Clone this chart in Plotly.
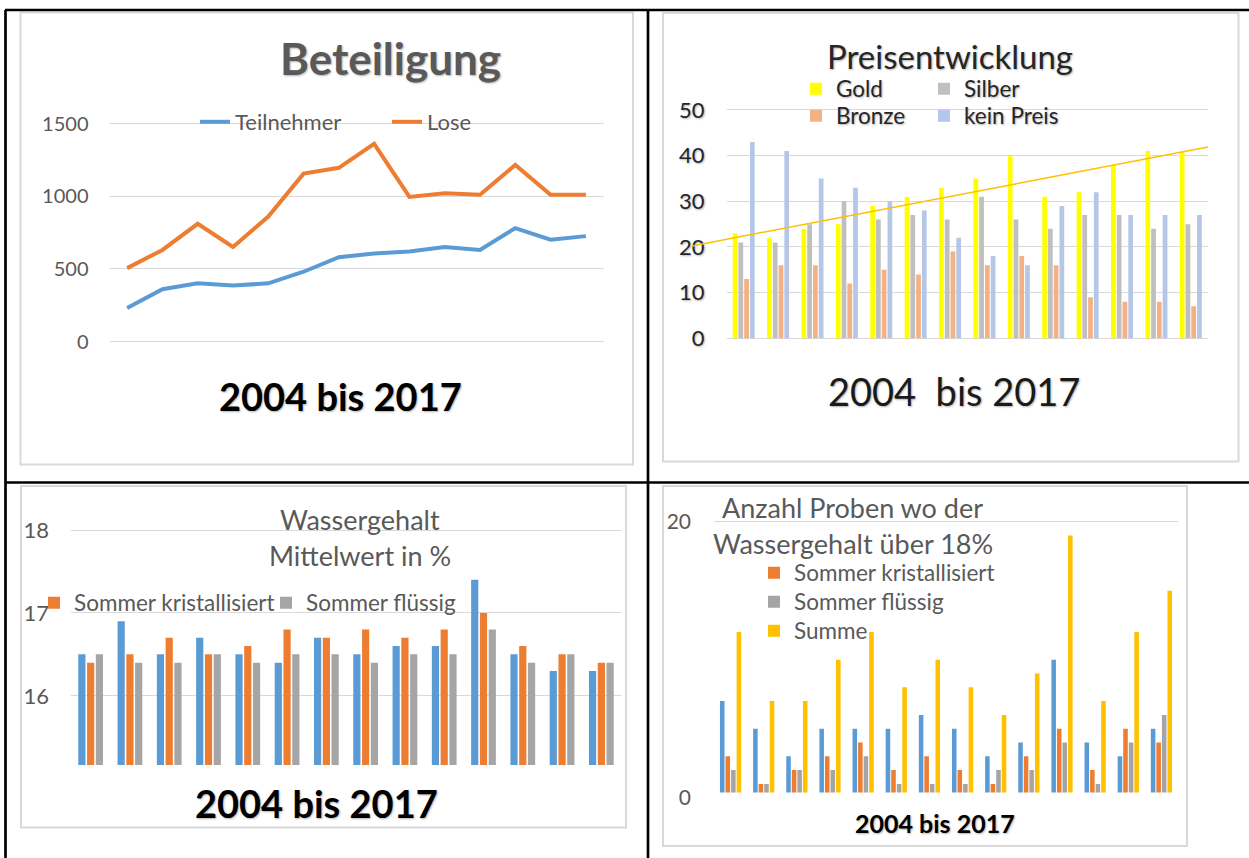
import numpy as np
import plotly.graph_objects as go

W, H = 1249, 858
FONT = "Lato"

# ---------------- data ----------------
years = [str(y) for y in range(2004, 2018)]

# Panel 1: Beteiligung
teilnehmer = [230, 360, 400, 385, 400, 480, 580, 605, 620, 650, 630, 780, 700, 725]
lose = [505, 630, 810, 650, 860, 1155, 1195, 1360, 995, 1020, 1010, 1215, 1010, 1010]

# Panel 2: Preisentwicklung
gold = [23, 22, 24, 25, 29, 31, 33, 35, 40, 31, 32, 38, 41, 41]
silber = [21, 21, 25, 30, 26, 27, 26, 31, 26, 24, 27, 27, 24, 25]
bronze = [13, 16, 16, 12, 15, 14, 19, 16, 18, 16, 9, 8, 8, 7]
kein_preis = [43, 41, 35, 33, 30, 28, 22, 18, 16, 29, 32, 27, 27, 27]

# Panel 3: Wassergehalt Mittelwert in %
wg_blau = [16.5, 16.9, 16.5, 16.7, 16.5, 16.4, 16.7, 16.5, 16.6, 16.6, 17.4, 16.5, 16.3, 16.3]
wg_kristall = [16.4, 16.5, 16.7, 16.5, 16.6, 16.8, 16.7, 16.8, 16.7, 16.8, 17.0, 16.6, 16.5, 16.4]
wg_fluessig = [16.5, 16.4, 16.4, 16.5, 16.4, 16.5, 16.5, 16.4, 16.5, 16.5, 16.8, 16.4, 16.5, 16.4]

# Panel 4: Anzahl Proben mit Wassergehalt ueber 18%
pr_blau = [7, 5, 3, 5, 5, 5, 6, 5, 3, 4, 10, 4, 3, 5]
pr_kristall = [3, 1, 2, 3, 4, 2, 3, 2, 1, 3, 5, 2, 5, 4]
pr_fluessig = [2, 1, 2, 2, 3, 1, 1, 1, 2, 2, 4, 1, 4, 6]
pr_summe = [12, 7, 7, 10, 12, 8, 10, 8, 6, 9, 19, 7, 12, 15]

# linear trend of Gold (backward forecast 1 period)
idx = np.arange(len(gold))
slope, icpt = np.polyfit(idx, gold, 1)
trend_x = np.array([idx[0] - 1.5, idx[-1] + 0.5])
trend_y = icpt + slope * trend_x

# ---------------- helpers ----------------
def xd(p0, p1):
    return [p0 / W, p1 / W]

def ydom(va, pa, vb, pb, r0, r1):
    f = lambda v: pa + (v - va) * (pb - pa) / (vb - va)
    top, bot = f(r1), f(r0)
    return [1 - bot / H, 1 - top / H]

def px(x):
    return x / W

def py(y):
    return 1 - y / H

BLUE, ORANGE, GRAY, YEL = "#5B9BD5", "#ED7D31", "#A5A5A5", "#FFC000"
GRID = "#D9D9D9"
TXT = "#595959"
DARK = "#262626"
SH = "1px 1px 2px rgba(0,0,0,0.30)"

fig = go.Figure()

# Panel 1
fig.add_trace(go.Scatter(x=years, y=teilnehmer, name="Teilnehmer", mode="lines",
                         line=dict(color=BLUE, width=4), xaxis="x", yaxis="y", legend="legend"))
fig.add_trace(go.Scatter(x=years, y=lose, name="Lose", mode="lines",
                         line=dict(color=ORANGE, width=4), xaxis="x", yaxis="y", legend="legend2"))

# Panel 2
fig.add_trace(go.Bar(x=years, y=gold, name="Gold", marker_color="#FFFF00", xaxis="x2", yaxis="y2", legend="legend3"))
fig.add_trace(go.Bar(x=years, y=silber, name="Silber", marker_color="#BFBFBF", xaxis="x2", yaxis="y2", legend="legend4"))
fig.add_trace(go.Bar(x=years, y=bronze, name="Bronze", marker_color="#F4B183", xaxis="x2", yaxis="y2", legend="legend5"))
fig.add_trace(go.Bar(x=years, y=kein_preis, name="kein Preis", marker_color="#B4C7E7", xaxis="x2", yaxis="y2", legend="legend6"))
fig.add_trace(go.Scatter(x=trend_x, y=trend_y, mode="lines", line=dict(color=YEL, width=1.5),
                         showlegend=False, xaxis="x5", yaxis="y5"))

# Panel 3
fig.add_trace(go.Bar(x=years, y=wg_blau, name="Frühjahr", marker_color=BLUE, showlegend=False, xaxis="x3", yaxis="y3"))
fig.add_trace(go.Bar(x=years, y=wg_kristall, name="Sommer kristallisiert", marker_color=ORANGE, xaxis="x3", yaxis="y3", legend="legend7"))
fig.add_trace(go.Bar(x=years, y=wg_fluessig, name="Sommer flüssig", marker_color=GRAY, xaxis="x3", yaxis="y3", legend="legend8"))

# Panel 4
fig.add_trace(go.Bar(x=years, y=pr_blau, name="Frühjahr", marker_color=BLUE, showlegend=False, xaxis="x4", yaxis="y4"))
fig.add_trace(go.Bar(x=years, y=pr_kristall, name="Sommer kristallisiert", marker_color=ORANGE, xaxis="x4", yaxis="y4", legend="legend9"))
fig.add_trace(go.Bar(x=years, y=pr_fluessig, name="Sommer flüssig", marker_color=GRAY, xaxis="x4", yaxis="y4", legend="legend10"))
fig.add_trace(go.Bar(x=years, y=pr_summe, name="Summe", marker_color=YEL, xaxis="x4", yaxis="y4", legend="legend11"))

fig.update_traces(selector=dict(type="bar"), marker_line_width=0)

xcat = dict(type="category", range=[-0.5, 13.5], showticklabels=False, showgrid=False,
            zeroline=False, showline=False, ticks="", automargin=False)

def yax(dom, rng, tv, anchor, size, color, standoff, shadow="none"):
    return dict(domain=dom, range=rng, tickvals=tv, anchor=anchor, showgrid=True, gridcolor=GRID,
                gridwidth=1, zeroline=False, showline=False, ticks="", automargin=False,
                tickfont=dict(family=FONT, size=size, color=color, shadow=shadow),
                ticklabelstandoff=standoff)

y2dom = ydom(0, 338.3, 50, 110, -0.5, 50.5)

OFF = 41  # legend x to text start
def leg(tx, cy, size, color, shadow="none"):
    return dict(orientation="v", x=px(tx - OFF), y=py(cy), xanchor="left", yanchor="middle",
                bgcolor="rgba(0,0,0,0)", borderwidth=0,
                font=dict(family=FONT, size=size, color=color, shadow=shadow))

fig.update_layout(
    width=W, height=H, margin=dict(l=0, r=0, t=0, b=0, autoexpand=False),
    paper_bgcolor="white", plot_bgcolor="rgba(0,0,0,0)",
    barmode="group", bargap=0.33, bargroupgap=0.18,
    font=dict(family=FONT, color=TXT),
    xaxis=dict(domain=xd(109.5, 603.5), anchor="y", **xcat),
    yaxis=yax(ydom(0, 341.5, 1500, 123.5, -20, 1520), [-20, 1520], [0, 500, 1000, 1500], "x", 20, TXT, 20),
    xaxis2=dict(domain=xd(726.5, 1208), anchor="y2", **xcat),
    yaxis2=yax(y2dom, [-0.5, 50.5], [0, 10, 20, 30, 40, 50], "x2", 22, DARK, 21, SH),
    xaxis3=dict(domain=xd(71, 621), anchor="y3", **xcat),
    yaxis3=yax(ydom(16, 695.8, 18, 530, 15.165, 18.05), [15.165, 18.05], [16, 17, 18], "x3", 22, TXT, 21),
    xaxis4=dict(domain=xd(714, 1178), anchor="y4", **xcat),
    yaxis4=yax(ydom(0, 797.7, 20, 521.7, -0.3, 20.3), [-0.3, 20.3], [0, 20], "x4", 21, TXT, 22),
    xaxis5=dict(domain=xd(692, 1208), anchor="y5", type="linear", range=[-1.5, 13.5], visible=False, automargin=False),
    yaxis5=dict(domain=y2dom, anchor="x5", range=[-0.5, 50.5], visible=False, automargin=False),
    legend=leg(236, 122, 22, TXT),
    legend2=leg(428, 122, 22, TXT),
    legend3=leg(837, 89, 22.5, DARK, SH),
    legend4=leg(965, 89, 22.5, DARK, SH),
    legend5=leg(837, 116, 22.5, DARK, SH),
    legend6=leg(965, 116, 22.5, DARK, SH),
    legend7=leg(75, 603, 22.5, TXT),
    legend8=leg(307, 603, 22.5, TXT),
    legend9=leg(795, 573, 22.5, TXT),
    legend10=leg(795, 602, 22.5, TXT),
    legend11=leg(795, 631, 22.5, TXT),
)

# ---------------- text ----------------
def ann(text, x, y, size, color, bold=False, shadow="none"):
    t = f"<b>{text}</b>" if bold else text
    fig.add_annotation(text=t, x=px(x), y=py(y), xref="paper", yref="paper", showarrow=False,
                       xanchor="center", yanchor="middle",
                       font=dict(family=FONT, size=size, color=color, shadow=shadow))

ann("Beteiligung", 391, 58, 44, TXT, bold=True, shadow=SH)
ann("2004 bis 2017", 340, 396, 38, "black", bold=True, shadow=SH)
ann("Preisentwicklung", 950, 56, 33, DARK, shadow=SH)
ann("2004&nbsp; bis 2017", 954, 391, 38, "#1a1a1a", shadow=SH)
ann("Wassergehalt", 360, 519, 27, TXT)
ann("Mittelwert in %", 360, 555, 27, TXT)
ann("2004 bis 2017", 316, 803, 38, "black", bold=True, shadow=SH)
ann("Anzahl Proben wo der", 852, 507, 27, TXT)
ann("Wassergehalt über 18%", 853, 543, 27, TXT)
ann("2004 bis 2017", 935, 823, 25, "black", bold=True, shadow=SH)

# ---------------- frames & table lines ----------------
shapes = []
def rect(x0, y0, x1, y1, color=GRID, w=2, fill=None, layer="below"):
    shapes.append(dict(type="rect", xref="paper", yref="paper", x0=px(x0), x1=px(x1), y0=py(y0), y1=py(y1),
                       line=dict(color=color, width=w), fillcolor=fill, layer=layer))

def line(x0, y0, x1, y1, color="black", w=2.7):
    shapes.append(dict(type="line", xref="paper", yref="paper", x0=px(x0), x1=px(x1), y0=py(y0), y1=py(y1),
                       line=dict(color=color, width=w), layer="above"))

rect(20.5, 12.5, 633, 464.5)
rect(663, 13, 1238.5, 461.5)
rect(21, 486, 626, 827.5)
rect(663, 486, 1187, 846)
# cropped bottom of panel 4 bars
rect(712, 792.5, 1180, 800, color="rgba(0,0,0,0)", w=0, fill="white", layer="above")

line(5, 10, 1249, 10)
line(5.5, 10, 5.5, 858)
line(648, 10, 648, 858)
line(5, 482.5, 1249, 482.5)

fig.update_layout(shapes=shapes)

fig.write_html("out.html", config={"displayModeBar": False},
               post_script="document.body.style.margin='0';document.body.style.overflow='hidden';")
